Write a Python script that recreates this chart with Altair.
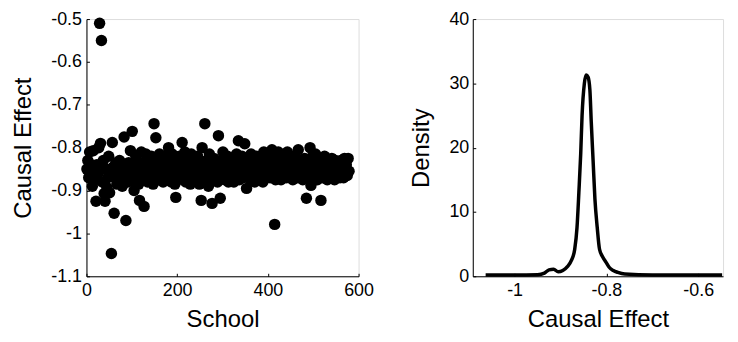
import altair as alt
import pandas as pd

# ---- data ----
schools = list(range(1, 580, 2))
effects = [
    -0.85, -0.83, -0.87, -0.81, -0.86, -0.84, -0.89, -0.807, -0.855, -0.875,
    -0.925, -0.84, -0.86, -0.80, -0.51, -0.79, -0.55, -0.88, -0.83, -0.907,
    -0.925, -0.85, -0.893, -0.87, -0.82, -0.905, -0.86, -1.047, -0.788, -0.845,
    -0.953, -0.87, -0.835, -0.885, -0.85, -0.86, -0.83, -0.875, -0.845, -0.89,
    -0.84, -0.775, -0.865, -0.97, -0.85, -0.88, -0.835, -0.87, -0.807, -0.855,
    -0.762, -0.877, -0.90, -0.84, -0.82, -0.865, -0.85, -0.885, -0.923, -0.835,
    -0.81, -0.86, -0.875, -0.937, -0.84, -0.815, -0.855, -0.88, -0.83, -0.865,
    -0.845, -0.82, -0.87, -0.885, -0.744, -0.84, -0.777, -0.86, -0.83, -0.875,
    -0.815, -0.85, -0.87, -0.835, -0.88, -0.82, -0.86, -0.845, -0.875, -0.83,
    -0.80, -0.855, -0.84, -0.88, -0.815, -0.865, -0.83, -0.885, -0.916, -0.85,
    -0.84, -0.87, -0.82, -0.86, -0.835, -0.788, -0.875, -0.85, -0.81, -0.88,
    -0.845, -0.825, -0.865, -0.84, -0.885, -0.815, -0.855, -0.87, -0.83, -0.86,
    -0.84, -0.875, -0.82, -0.85, -0.885, -0.835, -0.923, -0.80, -0.865, -0.845,
    -0.744, -0.87, -0.83, -0.855, -0.89, -0.815, -0.86, -0.84, -0.93, -0.875,
    -0.825, -0.855, -0.87, -0.84, -0.88, -0.772, -0.85, -0.918, -0.83, -0.865,
    -0.81, -0.845, -0.875, -0.835, -0.86, -0.82, -0.88, -0.85, -0.84, -0.87,
    -0.825, -0.855, -0.88, -0.84, -0.865, -0.815, -0.85, -0.784, -0.875, -0.835,
    -0.86, -0.82, -0.87, -0.845, -0.791, -0.855, -0.895, -0.83, -0.865, -0.84,
    -0.875, -0.815, -0.85, -0.86, -0.83, -0.88, -0.845, -0.82, -0.865, -0.84,
    -0.855, -0.87, -0.825, -0.845, -0.88, -0.81, -0.86, -0.835, -0.87, -0.85,
    -0.815, -0.845, -0.87, -0.83, -0.805, -0.86, -0.84, -0.979, -0.875, -0.825,
    -0.855, -0.81, -0.865, -0.84, -0.875, -0.82, -0.85, -0.83, -0.86, -0.845,
    -0.87, -0.81, -0.855, -0.835, -0.865, -0.825, -0.85, -0.875, -0.84, -0.82,
    -0.86, -0.845, -0.87, -0.805, -0.85, -0.83, -0.865, -0.84, -0.875, -0.855,
    -0.825, -0.86, -0.918, -0.84, -0.87, -0.83, -0.80, -0.888, -0.85, -0.82,
    -0.865, -0.84, -0.815, -0.855, -0.875, -0.835, -0.86, -0.845, -0.923, -0.83,
    -0.87, -0.85, -0.82, -0.865, -0.84, -0.875, -0.83, -0.855, -0.845, -0.87,
    -0.825, -0.86, -0.84, -0.875, -0.83, -0.855, -0.865, -0.835, -0.85, -0.87,
    -0.83, -0.86, -0.845, -0.87, -0.825, -0.855, -0.84, -0.865, -0.825, -0.855,
]

density_x = [-1.063, -1.0, -0.95, -0.935, -0.925, -0.915, -0.905, -0.895, -0.885,
             -0.876, -0.869, -0.864, -0.86, -0.856, -0.853, -0.848, -0.844, -0.840,
             -0.836, -0.833, -0.829, -0.825, -0.820, -0.815, -0.808, -0.801, -0.794,
             -0.785, -0.775, -0.76, -0.7, -0.6, -0.548]
density_y = [0.2, 0.2, 0.25, 0.5, 1.0, 1.1, 0.7, 0.9, 1.5,
             2.5, 4.2, 7.6, 13, 19, 25, 30, 31.3, 31,
             29, 24, 18, 12, 7.6, 4.2, 3.0, 2.2, 1.4,
             0.9, 0.6, 0.35, 0.2, 0.2, 0.2]

y_ticks_left = [-1.1, -1.0, -0.9, -0.8, -0.7, -0.6, -0.5]
x_ticks_left = [0, 200, 400, 600]
x_ticks_right = [-1.0, -0.8, -0.6]
y_ticks_right = [0, 10, 20, 30, 40]

df_sc = pd.DataFrame({"school": schools, "effect": effects})
df_de = pd.DataFrame({"x": density_x, "d": density_y})

FONT = "Liberation Sans"
lbl = "'' + datum.value"


def ax(title, values, lp, tp):
    return alt.Axis(
        title=title, values=values, labelExpr=lbl, grid=False, labelFlush=False,
        domainColor="black", domainWidth=1, tickColor="black",
        tickSize={"expr": "-3"}, labelColor="black", titleColor="black",
        labelFont=FONT, titleFont=FONT, labelFontSize=18, titleFontSize=24,
        titleFontWeight="normal", labelPadding=lp, titlePadding=tp,
    )


left = alt.Chart(df_sc).mark_circle(size=133, color="black", opacity=1).encode(
    x=alt.X("school:Q", scale=alt.Scale(domain=[0, 600], nice=False, zero=False),
            axis=ax("School", x_ticks_left, 8, 9)),
    y=alt.Y("effect:Q", scale=alt.Scale(domain=[-1.1, -0.5], nice=False, zero=False),
            axis=ax("Causal Effect", y_ticks_left, 8, 15)),
).properties(width=274, height=259)

right = alt.Chart(df_de).mark_line(color="black", strokeWidth=3.5, interpolate="monotone").encode(
    x=alt.X("x:Q", scale=alt.Scale(domain=[-1.091, -0.546], nice=False, zero=False),
            axis=ax("Causal Effect", x_ticks_right, 8, 9)),
    y=alt.Y("d:Q", scale=alt.Scale(domain=[0, 40], nice=False, zero=False),
            axis=ax("Density", y_ticks_right, 7, 16)),
).properties(width=252, height=259)

chart = alt.hconcat(left, right, spacing=34).properties(
    padding={"left": 3, "top": 0, "right": 0, "bottom": 0}
).configure_view(strokeWidth=0).configure(background="white")

chart.save("out.html", embed_options={"renderer": "svg", "actions": False})
